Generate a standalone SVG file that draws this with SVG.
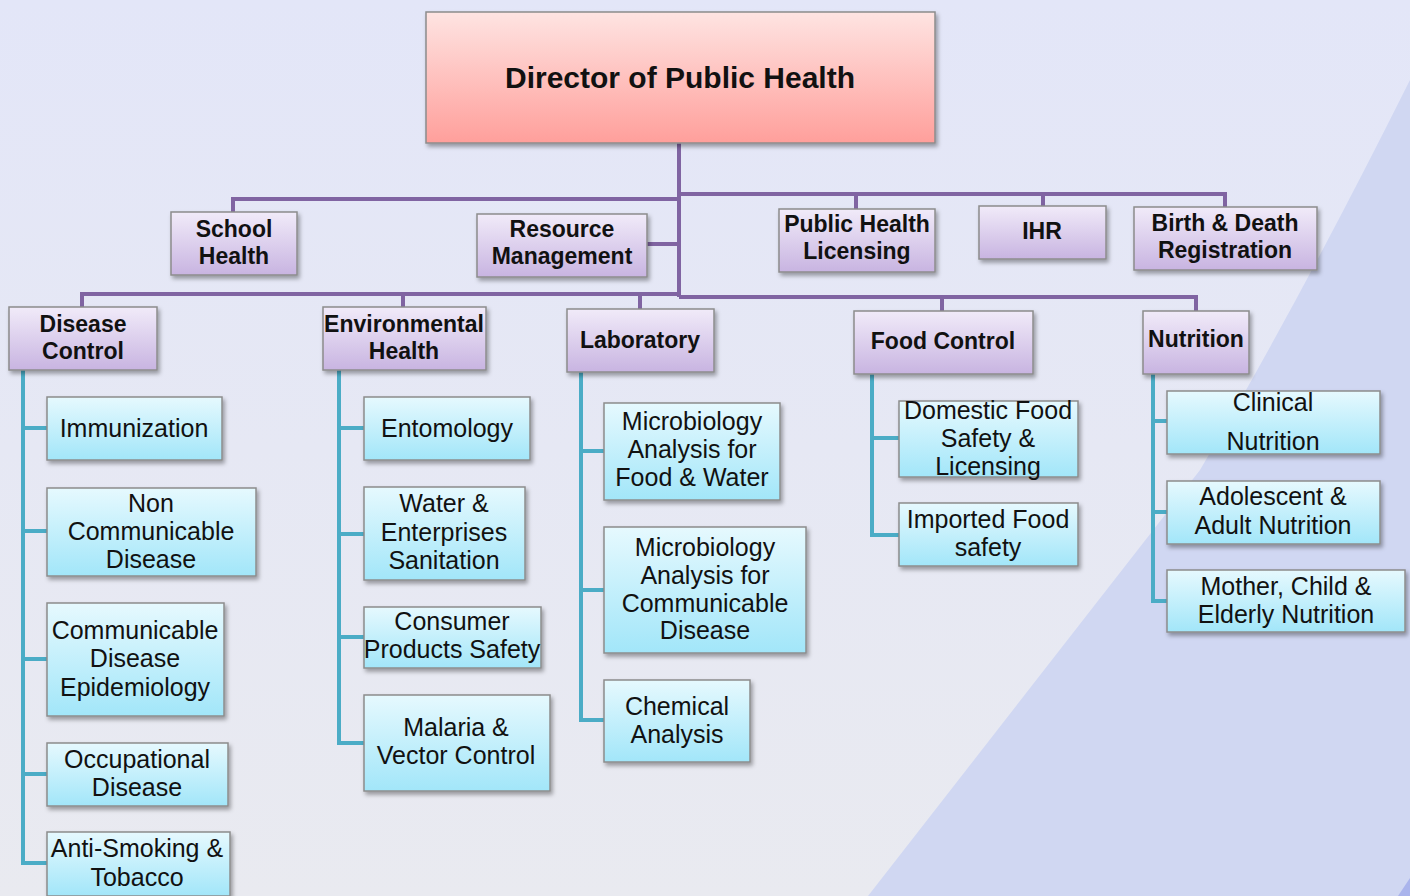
<svg xmlns="http://www.w3.org/2000/svg" width="1410" height="896" viewBox="0 0 1410 896">
<defs>
<linearGradient id="bg" x1="0" y1="0" x2="0" y2="1"><stop offset="0" stop-color="#e3e6f8"/><stop offset="1" stop-color="#e9eaf0"/></linearGradient>
<linearGradient id="gDir" x1="0" y1="0" x2="0" y2="1"><stop offset="0" stop-color="#fee4e2"/><stop offset="1" stop-color="#ff9f9b"/></linearGradient>
<linearGradient id="gPur" x1="0" y1="0" x2="0" y2="1"><stop offset="0" stop-color="#f1ebf9"/><stop offset="1" stop-color="#c8b4e1"/></linearGradient>
<linearGradient id="gBlu" x1="0" y1="0" x2="0" y2="1"><stop offset="0" stop-color="#e6f9fe"/><stop offset="1" stop-color="#a2e6f9"/></linearGradient>
<filter id="sh" x="-10%" y="-10%" width="130%" height="140%"><feDropShadow dx="2" dy="3" stdDeviation="2" flood-color="#000" flood-opacity="0.35"/></filter>
<style>
.dir{fill:url(#gDir);stroke:#8c8c8c;stroke-width:1.5;filter:url(#sh)}
.pur{fill:url(#gPur);stroke:#8c8c8c;stroke-width:1.5;filter:url(#sh)}
.blu{fill:url(#gBlu);stroke:#8c8c8c;stroke-width:1.5;filter:url(#sh)}
.pl{fill:none;stroke:#8064a2;stroke-width:4}
.tl{fill:none;stroke:#4bacc6;stroke-width:4}
text{font-family:"Liberation Sans",Arial,sans-serif;fill:#111;text-anchor:middle}
.t0{font-size:30px;font-weight:bold}
.t1{font-size:23px;font-weight:bold}
.t3{font-size:25px}
</style>
</defs>
<rect width="1410" height="896" fill="url(#bg)"/>
<path d="M1410 80 Q1300 300 1200 470 L868 896 L1410 896 Z" fill="#d0d7f2"/>
<path d="M1410 878 L1398 896 L1410 896 Z" fill="#aab4ec"/>

<g id="connectors">
<path class="pl" d="M679 143 V297"/>
<path class="pl" d="M233 212 V199 H679"/>
<path class="pl" d="M679 194 H1225 V208"/>
<path class="pl" d="M856 194 V209"/>
<path class="pl" d="M1043 194 V206"/>
<path class="pl" d="M647 244 H679"/>
<path class="pl" d="M82 308 V294 H679"/>
<path class="pl" d="M403 294 V307"/>
<path class="pl" d="M640 294 V309"/>
<path class="pl" d="M679 297 H1196 V311"/>
<path class="pl" d="M942 297 V312"/>
<path class="tl" d="M23 370 V863 H47"/>
<path class="tl" d="M23 428 H47 M23 531 H47 M23 659 H47 M23 774 H47"/>
<path class="tl" d="M339 370 V743 H364"/>
<path class="tl" d="M339 428 H364 M339 534 H364 M339 637 H364"/>
<path class="tl" d="M581 372 V720 H604"/>
<path class="tl" d="M581 451 H604 M581 590 H604"/>
<path class="tl" d="M872 374 V535 H899"/>
<path class="tl" d="M872 438 H899"/>
<path class="tl" d="M1153 374 V601 H1167"/>
<path class="tl" d="M1153 421 H1167 M1153 512 H1167"/>
</g>

<g id="director"><rect class="dir" x="426" y="12" width="509" height="131"/><text class="t0" x="680" y="88">Director of Public Health</text></g>

<g id="school-health"><rect class="pur" x="171" y="212" width="126" height="63"/><text class="t1" x="234" y="237">School</text><text class="t1" x="234" y="264">Health</text></g>
<g id="resource-management"><rect class="pur" x="477" y="214" width="170" height="63"/><text class="t1" x="562" y="237">Resource</text><text class="t1" x="562" y="264">Management</text></g>
<g id="public-health-licensing"><rect class="pur" x="779" y="209" width="156" height="63"/><text class="t1" x="857" y="232">Public Health</text><text class="t1" x="857" y="259">Licensing</text></g>
<g id="ihr"><rect class="pur" x="979" y="206" width="127" height="53"/><text class="t1" x="1042" y="239">IHR</text></g>
<g id="birth-death"><rect class="pur" x="1134" y="207" width="183" height="63"/><text class="t1" x="1225" y="231">Birth &amp; Death</text><text class="t1" x="1225" y="258">Registration</text></g>

<g id="disease-control"><rect class="pur" x="9" y="307" width="148" height="63"/><text class="t1" x="83" y="332">Disease</text><text class="t1" x="83" y="359">Control</text></g>
<g id="environmental-health"><rect class="pur" x="323" y="307" width="163" height="63"/><text class="t1" x="404" y="332">Environmental</text><text class="t1" x="404" y="359">Health</text></g>
<g id="laboratory"><rect class="pur" x="567" y="309" width="147" height="63"/><text class="t1" x="640" y="348">Laboratory</text></g>
<g id="food-control"><rect class="pur" x="854" y="311" width="179" height="63"/><text class="t1" x="943" y="349">Food Control</text></g>
<g id="nutrition"><rect class="pur" x="1143" y="311" width="106" height="63"/><text class="t1" x="1196" y="347">Nutrition</text></g>

<g id="immunization"><rect class="blu" x="47" y="397" width="175" height="63"/><text class="t3" x="134" y="437">Immunization</text></g>
<g id="non-communicable"><rect class="blu" x="47" y="488" width="209" height="88"/><text class="t3" x="151" y="512">Non</text><text class="t3" x="151" y="540">Communicable</text><text class="t3" x="151" y="568">Disease</text></g>
<g id="communicable-epi"><rect class="blu" x="47" y="603" width="177" height="113"/><text class="t3" x="135" y="639">Communicable</text><text class="t3" x="135" y="667">Disease</text><text class="t3" x="135" y="696">Epidemiology</text></g>
<g id="occupational"><rect class="blu" x="47" y="743" width="181" height="63"/><text class="t3" x="137" y="768">Occupational</text><text class="t3" x="137" y="796">Disease</text></g>
<g id="anti-smoking"><rect class="blu" x="47" y="832" width="183" height="64"/><text class="t3" x="137" y="857">Anti-Smoking &amp;</text><text class="t3" x="137" y="886">Tobacco</text></g>

<g id="entomology"><rect class="blu" x="364" y="397" width="166" height="63"/><text class="t3" x="447" y="437">Entomology</text></g>
<g id="water-sanitation"><rect class="blu" x="364" y="487" width="161" height="93"/><text class="t3" x="444" y="512">Water &amp;</text><text class="t3" x="444" y="541">Enterprises</text><text class="t3" x="444" y="569">Sanitation</text></g>
<g id="consumer-products"><rect class="blu" x="364" y="607" width="177" height="61"/><text class="t3" x="452" y="630">Consumer</text><text class="t3" x="452" y="658">Products Safety</text></g>
<g id="malaria-vector"><rect class="blu" x="364" y="695" width="186" height="96"/><text class="t3" x="456" y="736">Malaria &amp;</text><text class="t3" x="456" y="764">Vector Control</text></g>

<g id="micro-food-water"><rect class="blu" x="604" y="403" width="176" height="97"/><text class="t3" x="692" y="430">Microbiology</text><text class="t3" x="692" y="458">Analysis for</text><text class="t3" x="692" y="486">Food &amp; Water</text></g>
<g id="micro-communicable"><rect class="blu" x="604" y="527" width="202" height="126"/><text class="t3" x="705" y="556">Microbiology</text><text class="t3" x="705" y="584">Analysis for</text><text class="t3" x="705" y="612">Communicable</text><text class="t3" x="705" y="639">Disease</text></g>
<g id="chemical-analysis"><rect class="blu" x="604" y="680" width="146" height="82"/><text class="t3" x="677" y="715">Chemical</text><text class="t3" x="677" y="743">Analysis</text></g>

<g id="domestic-food"><rect class="blu" x="899" y="401" width="179" height="76"/><text class="t3" x="988" y="419">Domestic Food</text><text class="t3" x="988" y="447">Safety &amp;</text><text class="t3" x="988" y="475">Licensing</text></g>
<g id="imported-food"><rect class="blu" x="899" y="503" width="179" height="63"/><text class="t3" x="988" y="528">Imported Food</text><text class="t3" x="988" y="556">safety</text></g>

<g id="clinical-nutrition"><rect class="blu" x="1167" y="391" width="213" height="63"/><text class="t3" x="1273" y="411">Clinical</text><text class="t3" x="1273" y="450">Nutrition</text></g>
<g id="adolescent-adult"><rect class="blu" x="1167" y="481" width="213" height="63"/><text class="t3" x="1273" y="505">Adolescent &amp;</text><text class="t3" x="1273" y="534">Adult Nutrition</text></g>
<g id="mother-child-elderly"><rect class="blu" x="1167" y="570" width="238" height="62"/><text class="t3" x="1286" y="595">Mother, Child &amp;</text><text class="t3" x="1286" y="623">Elderly Nutrition</text></g>
</svg>
